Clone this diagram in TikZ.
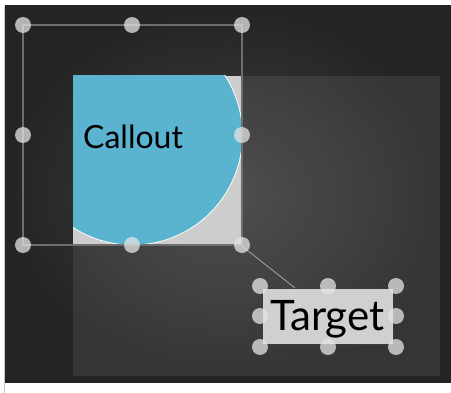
\documentclass[tikz,border=0pt]{standalone}
\usepackage{fontspec}
\setmainfont{Lato}
\definecolor{cblue}{RGB}{90,180,208}
\definecolor{sqgray}{RGB}{205,205,205}
\definecolor{tggray}{RGB}{208,208,208}
\definecolor{bgin}{RGB}{64,64,64}
\definecolor{bgout}{RGB}{36,36,36}
\definecolor{tgborder}{RGB}{60,60,60}
\definecolor{selgray}{RGB}{110,110,110}
\begin{document}
\begin{tikzpicture}[x=1pt,y=-1pt,
  handle/.style={circle,fill=white!80!gray,fill opacity=0.75,inner sep=0pt,minimum size=16pt},
  selline/.style={draw=selgray,line width=1.4pt},
]
\useasboundingbox (0,0) rectangle (451,393);
\fill[white] (0,0) rectangle (451,393);
\draw[gray!45,line width=1pt] (4.5,6) -- (4.5,393);
\shade[inner color=bgin,outer color=bgout] (5,6) rectangle (451,383);
% translucent panel
\fill[white,opacity=0.08] (73,76) rectangle (440,376);
% gray square
\node[fill=sqgray,anchor=north west,inner sep=0pt,minimum width=169pt,minimum height=170pt] (sq) at (73,76) {};
\begin{scope}
\clip (73,76) rectangle (242,246);
\fill[cblue] (132.5,135) circle (110);
\draw[white,line width=0.8pt] (132.5,135) circle (110);
\end{scope}
\node[anchor=base west,inner sep=0pt,font=\fontsize{32}{32}\selectfont] (callout) at (83,149) {Callout};
% selection rectangle
\draw[selline] (23,25) rectangle (242,245);
% target box
\node[fill=tggray,draw=tgborder,line width=0.4pt,anchor=north west,inner sep=0pt,minimum width=131pt,minimum height=56pt] (tg) at (262,288) {};
\node[anchor=base west,inner sep=0pt,font=\fontsize{42}{42}\selectfont] (tgt) at (270,331) {Target};
\coordinate (tgtop) at (295,288);
\draw[gray!70,line width=0.8pt] (sq.south east) -- (tgtop);
% handles on selection rectangle
\foreach \n/\x/\y in {a/23/25,b/132/25,c/242/25,d/23/135,e/242/135,f/23/245,g/132/245,h/242/245}
  \node[handle] (h\n) at (\x,\y) {};
% handles on target
\foreach \n/\x/\y in {a/260/286,b/328/286,c/396/286,d/260/316,e/396/316,f/260/347,g/328/347,h/396/347}
  \node[handle] (t\n) at (\x,\y) {};
\end{tikzpicture}
\end{document}
